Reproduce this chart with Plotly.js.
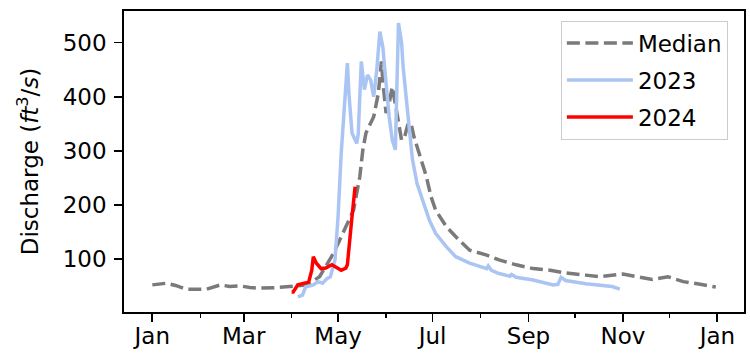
<!DOCTYPE html>
<html>
<head>
<meta charset="utf-8">
<script src="https://cdn.plot.ly/plotly-3.0.1.min.js"></script>
<style>html,body{margin:0;padding:0;background:#fff}#chart{width:750px;height:354px}</style>
</head>
<body>
<div id="chart"></div>
<script>
// Common plotting year for the month/day axis
const axisYear = '2023';

// Median daily discharge (month-day, ft^3/s)
const medianDates = ['01-01','01-10','01-16','01-23','02-05','02-14','02-20','02-27','03-05','03-11','03-22','04-02','04-11','04-19','04-28','05-06','05-11','05-15','05-17','05-19','05-24','05-27','05-29','05-30','06-01','06-03','06-05','06-08','06-11','06-13','06-15','06-17','06-19','06-23','06-27','06-30','07-03','07-05','07-10','07-18','07-25','08-05','08-13','08-24','09-04','09-15','09-25','10-08','10-17','11-01','11-12','11-20','11-30','12-10','12-21','12-31'];
const medianValues = [53,56,52,45,45,53,50,51,48,47,48,51,53,68,111,160,191,252,302,333,363,406,465,425,370,388,418,370,320,326,348,352,326,290,253,216,191,182,160,136,117,108,99,90,83,80,75,71,68,73,68,63,68,59,54,49];

// 2023 discharge
const y2023Dates = ['04-05','04-08','04-10','04-15','04-18','04-21','04-24','04-26','04-29','05-01','05-03','05-05','05-07','05-08','05-10','05-13','05-14','05-16','05-18','05-20','05-22','05-24','05-26','05-28','05-30','05-31','06-02','06-03','06-05','06-07','06-08','06-09','06-11','06-12','06-15','06-18','06-21','06-26','06-29','07-03','07-10','07-16','07-25','08-05','08-06','08-08','08-13','08-20','08-21','08-24','09-04','09-17','09-20','09-22','09-25','10-08','10-17','10-25','10-30'];
const y2023Values = [31,34,49,53,59,56,65,68,99,179,295,376,462,406,333,314,330,465,413,440,431,400,450,520,490,456,382,363,320,302,420,536,500,456,370,285,240,197,172,148,123,105,93,83,88,80,74,69,72,67,62,53,54,67,61,55,53,50,45];

// 2024 discharge
const y2024Dates = ['04-01','04-02','04-05','04-09','04-12','04-14','04-15','04-17','04-20','04-23','04-27','04-30','05-03','05-06','05-07','05-10','05-12'];
const y2024Values = [40,40,53,56,58,80,105,93,83,84,90,85,80,84,90,179,234];

// Axis tick labels
const tickLabels = ['Jan','Mar','May','Jul','Sep','Nov','Jan'];
const tickDates = ['2023-01-01','2023-03-01','2023-05-01','2023-07-01','2023-09-01','2023-11-01','2024-01-01'];

const toX = arr => arr.map(s => axisYear + '-' + s);
const font = {family: 'DejaVu Sans', size: 23, color: '#000'};

const traces = [
  {x: toX(medianDates), y: medianValues, name: 'Median', mode: 'lines', legendgroup: 'a',
   line: {color: '#7a7a7a', width: 3.5, dash: '13px,5.5px'}},
  {x: toX(y2023Dates), y: y2023Values, name: '2023', mode: 'lines', legendgroup: 'b',
   line: {color: '#aac5f4', width: 3.5}},
  {x: toX(y2024Dates), y: y2024Values, name: '2024', mode: 'lines', legendgroup: 'c',
   line: {color: '#ff0000', width: 3.5}}
];

const layout = {
  width: 750, height: 354,
  margin: {l: 124, r: 6, t: 11, b: 42, pad: 0},
  paper_bgcolor: '#fff', plot_bgcolor: '#fff',
  font: font,
  showlegend: true,
  legend: {x: 0.974, y: 0.968, xanchor: 'right', yanchor: 'top',
    bgcolor: 'rgba(255,255,255,0.8)', bordercolor: '#cccccc', borderwidth: 1,
    font: font, traceorder: 'grouped', tracegroupgap: 4, itemwidth: 66},
  xaxis: {
    type: 'date', range: ['2022-12-13 17:00', '2024-01-18 05:00'],
    tickvals: tickDates, ticktext: tickLabels,
    ticks: 'outside', ticklen: 8, tickwidth: 1.8, tickcolor: '#000',
    minor: {dtick: 'M1', tick0: '2023-01-01', ticks: 'outside', ticklen: 4.6, tickwidth: 1.4, tickcolor: '#000', showgrid: false},
    showgrid: false, zeroline: false,
    showline: true, mirror: true, linecolor: '#000', linewidth: 1.8,
    tickfont: font, ticklabelstandoff: -5
  },
  yaxis: {
    range: [3, 558],
    tickvals: [100,200,300,400,500],
    ticks: 'outside', ticklen: 8, tickwidth: 1.8, tickcolor: '#000',
    showgrid: false, zeroline: false,
    showline: true, mirror: true, linecolor: '#000', linewidth: 1.8,
    tickfont: font, ticklabelstandoff: 3,
    title: {text: 'Discharge (<i>ft</i><sup>3</sup>/<i>s</i>)', font: font, standoff: 18}
  }
};

Plotly.newPlot('chart', traces, layout, {displayModeBar: false, staticPlot: true});
</script>
</body>
</html>
